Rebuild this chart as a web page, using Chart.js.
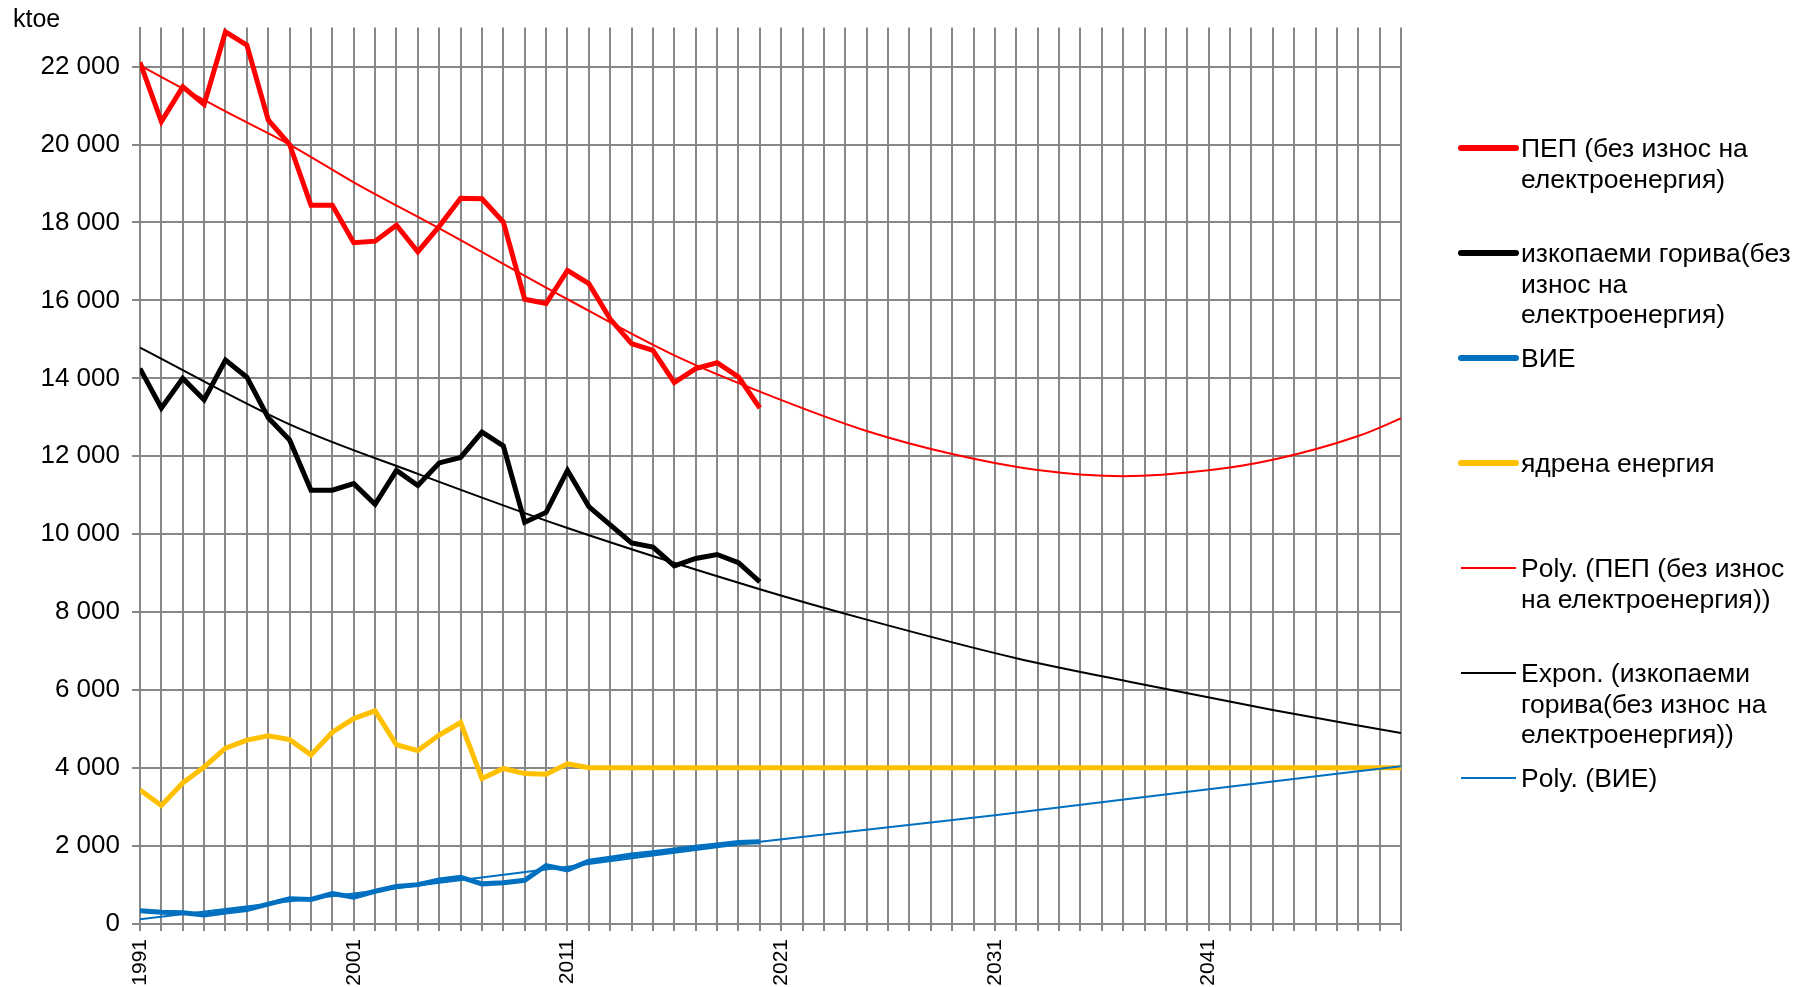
<!DOCTYPE html>
<html lang="bg">
<head>
    <meta charset="UTF-8">
    <title>Енергия - ktoe</title>
    <script src="https://cdn.jsdelivr.net/npm/chart.js"></script>
    <style>
        html, body { margin: 0; padding: 0; background: #fff; }
        #wrap { width: 1795px; height: 987px; }
    </style>
</head>
<body>
<div id="wrap"><canvas id="energyChart"></canvas></div>
<script>
    // Отчетни години
    const years = [1991, 1992, 1993, 1994, 1995, 1996, 1997, 1998, 1999, 2000,
                   2001, 2002, 2003, 2004, 2005, 2006, 2007, 2008, 2009, 2010,
                   2011, 2012, 2013, 2014, 2015, 2016, 2017, 2018, 2019, 2020];

    const pep = [22110, 20590, 21480, 21030, 22890, 22550, 20630, 20000, 18440, 18440,
                 17480, 17520, 17930, 17250, 17900, 18620, 18610, 18010, 16030, 15920,
                 16770, 16430, 15520, 14890, 14720, 13890, 14250, 14400, 14040, 13240];
    const fossil = [14250, 13240, 14000, 13450, 14470, 14030, 12990, 12420, 11130, 11130,
                    11300, 10770, 11640, 11250, 11830, 11970, 12620, 12270, 10310, 10560,
                    11640, 10710, 10240, 9780, 9670, 9190, 9380, 9480, 9270, 8780];
    const vie = [340, 300, 290, 230, 310, 370, 510, 650, 630, 780,
                 690, 840, 960, 1010, 1130, 1200, 1030, 1060, 1120, 1500,
                 1390, 1610, 1690, 1770, 1830, 1900, 1970, 2030, 2090, 2110];

    // ядрена енергия продължава хоризонтално до 2050
    const nuclearYears = years.concat([2050]);
    const nuclear = [3440, 3040, 3620, 4030, 4510, 4720, 4830, 4730, 4340, 4920,
                     5270, 5470, 4600, 4450, 4850, 5170, 3730, 3990, 3860, 3840,
                     4110, 4010, 4010, 4010, 4010, 4010, 4010, 4010, 4010, 4010,
                     4010];

    // Трендове (отчетени от графиката)
    const pepTrendYears = [1991, 1995, 1998, 2001, 2005, 2011, 2016, 2020, 2025, 2029, 2033, 2037, 2041, 2044, 2048, 2050];
    const pepTrend = [22030, 20850, 20000, 19030, 17850, 16030, 14590, 13660, 12650, 12060, 11650, 11490, 11640, 11910, 12520, 12970];

    const fossilTrendYears = [1991, 1998, 2004, 2011, 2020, 2025, 2032, 2038, 2044, 2050];
    const fossilTrend = [14790, 12820, 11550, 10160, 8590, 7810, 6820, 6140, 5490, 4900];

    const vieTrendYears = [1991, 2001, 2011, 2020, 2031, 2041, 2050];
    const vieTrend = [120, 780, 1470, 2110, 2790, 3460, 4050];

    const xLabelYears = [1991, 2001, 2011, 2021, 2031, 2041];
    const yTickValues = [0, 2000, 4000, 6000, 8000, 10000, 12000, 14000, 16000, 18000, 20000, 22000];

    const legendLines = [
        ['ПЕП (без износ на', 'електроенергия)'],
        ['изкопаеми горива(без', 'износ на', 'електроенергия)'],
        ['ВИЕ'],
        ['ядрена енергия'],
        ['Poly. (ПЕП (без износ', 'на електроенергия))'],
        ['Expon. (изкопаеми', 'горива(без износ на', 'електроенергия))'],
        ['Poly. (ВИЕ)']
    ];

    function pts(xs, ys) {
        return xs.map(function (x, i) { return { x: x, y: ys[i] }; });
    }

    function fmt(v) {
        return String(v).replace(/\B(?=(\d{3})+(?!\d))/g, ' ');
    }

    const FONT = '"Liberation Sans", Arial, sans-serif';
    Chart.defaults.font.family = FONT;
    Chart.defaults.color = '#000';

    // легенда вдясно, с пренасяне на редове като в оригинала
    const sideLegend = {
        id: 'sideLegend',
        afterDraw(chart) {
            const ctx = chart.ctx;
            const left = chart.chartArea.right + 60;
            ctx.save();
            ctx.font = '26.5px ' + FONT;
            ctx.fillStyle = '#000';
            ctx.textBaseline = 'alphabetic';
            chart.data.datasets.forEach(function (ds, i) {
                const y = 148 + i * 105;
                ctx.strokeStyle = ds.borderColor;
                ctx.lineWidth = ds.borderWidth > 3 ? 6 : 2;
                ctx.lineCap = ds.borderWidth > 3 ? 'round' : 'butt';
                ctx.beginPath();
                ctx.moveTo(left, y);
                ctx.lineTo(left + 55, y);
                ctx.stroke();
                legendLines[i].forEach(function (line, j) {
                    ctx.fillText(line, left + 60, y + 9 + j * 30.5);
                });
            });
            ctx.font = '25px ' + FONT;
            ctx.fillText('ktoe', 13, 27);
            ctx.restore();
        }
    };

    const ctx = document.getElementById('energyChart').getContext('2d');
    new Chart(ctx, {
        type: 'line',
        data: {
            datasets: [
                { label: 'ПЕП (без износ на електроенергия)', data: pts(years, pep),
                  borderColor: '#FF0000', borderWidth: 5, order: 1 },
                { label: 'изкопаеми горива(без износ на електроенергия)', data: pts(years, fossil),
                  borderColor: '#000000', borderWidth: 5, order: 1 },
                { label: 'ВИЕ', data: pts(years, vie),
                  borderColor: '#0070C0', borderWidth: 5, order: 1 },
                { label: 'ядрена енергия', data: pts(nuclearYears, nuclear),
                  borderColor: '#FFC000', borderWidth: 5, order: 1 },
                { label: 'Poly. (ПЕП (без износ на електроенергия))', data: pts(pepTrendYears, pepTrend),
                  borderColor: '#FF0000', borderWidth: 2, cubicInterpolationMode: 'monotone', order: 0 },
                { label: 'Expon. (изкопаеми горива(без износ на електроенергия))', data: pts(fossilTrendYears, fossilTrend),
                  borderColor: '#000000', borderWidth: 2, cubicInterpolationMode: 'monotone', order: 0 },
                { label: 'Poly. (ВИЕ)', data: pts(vieTrendYears, vieTrend),
                  borderColor: '#0070C0', borderWidth: 2, cubicInterpolationMode: 'monotone', order: 0 }
            ]
        },
        options: {
            responsive: true,
            maintainAspectRatio: false,
            animation: false,
            elements: { point: { radius: 0, hoverRadius: 0 }, line: { fill: false } },
            layout: { padding: { top: 16, right: 394, bottom: 0, left: 0 } },
            plugins: {
                legend: { display: false },
                tooltip: { enabled: false }
            },
            scales: {
                x: {
                    type: 'linear',
                    min: 1991,
                    max: 2050,
                    grid: { color: '#888888', lineWidth: 2, tickLength: 7 },
                    border: { color: '#888888', width: 2 },
                    ticks: {
                        stepSize: 1,
                        autoSkip: false,
                        maxTicksLimit: 100,
                        minRotation: 90,
                        maxRotation: 90,
                        padding: 8,
                        font: { size: 21 },
                        callback: function (v) {
                            const yr = Math.round(v);
                            return xLabelYears.includes(yr) ? String(yr) : '';
                        }
                    },
                    afterFit: function (scale) { scale.height = 63; }
                },
                y: {
                    min: 0,
                    max: 23000,
                    grid: { color: '#888888', lineWidth: 2, tickLength: 8 },
                    border: { color: '#888888', width: 2 },
                    afterBuildTicks: function (scale) {
                        scale.ticks = yTickValues.map(function (v) { return { value: v }; });
                    },
                    ticks: {
                        autoSkip: false,
                        padding: 12,
                        font: { size: 26 },
                        callback: function (v) { return fmt(v); }
                    },
                    afterFit: function (scale) { scale.width = 140; }
                }
            }
        },
        plugins: [sideLegend]
    });
</script>
</body>
</html>
